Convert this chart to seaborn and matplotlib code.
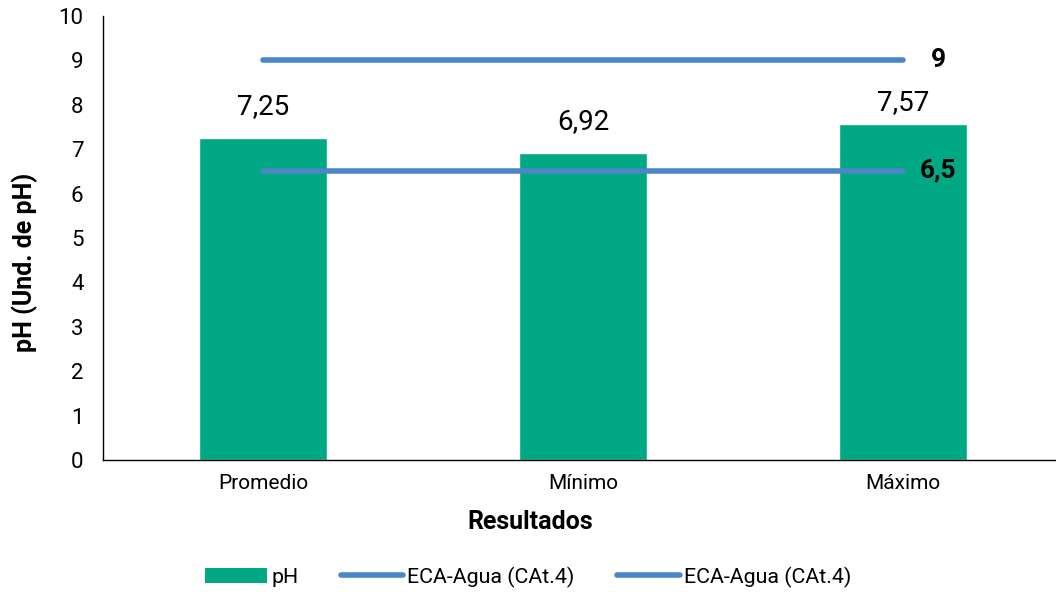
import numpy as np
import pandas as pd
import matplotlib
matplotlib.use('Agg')
import matplotlib.pyplot as plt
from matplotlib.patches import Patch
from matplotlib.lines import Line2D
import seaborn as sns

categorias = ['Promedio', 'Mínimo', 'Máximo']
ph_valores = [7.25, 6.92, 7.57]
eca_max = [9, 9, 9]
eca_min = [6.5, 6.5, 6.5]
etiquetas_ph = ['7,25', '6,92', '7,57']

verde = '#00a884'
azul = '#4a86c8'

sns.set_style('white')
plt.rcParams['font.family'] = ['Roboto', 'DejaVu Sans']
plt.rcParams['text.color'] = 'black'
plt.rcParams['axes.labelcolor'] = 'black'
plt.rcParams['xtick.color'] = 'black'
plt.rcParams['ytick.color'] = 'black'

fig = plt.figure(figsize=(10.56, 5.92), dpi=100)
ax = fig.add_axes([103 / 1056, 1 - 460 / 592, (1056 - 103) / 1056, (460 - 16) / 592])

df = pd.DataFrame({'Resultado': categorias, 'pH': ph_valores})
sns.barplot(data=df, x='Resultado', y='pH', color=verde, width=0.4,
            saturation=1, ax=ax)

pos = np.arange(len(categorias))
ax.plot(pos, eca_max, color=azul, lw=4, solid_capstyle='round', zorder=3)
ax.plot(pos, eca_min, color=azul, lw=4, solid_capstyle='round', zorder=3)

# desplazamiento de etiquetas (la del máximo queda más baja para no chocar con la línea)
desp = [0.7, 0.7, 0.47]
for x, v, t, d in zip(pos, ph_valores, etiquetas_ph, desp):
    ax.text(x, v + d, t, ha='center', va='center', fontsize=20)

ax.text(pos[-1] + 0.11, eca_max[-1], '9', ha='center', va='center',
        fontsize=19, fontweight='bold')
ax.text(pos[-1] + 0.11, eca_min[-1] + 0.03, '6,5', ha='center', va='center',
        fontsize=19, fontweight='bold')

ax.set_xlim(-0.5, 2.5 - 7 / 320)
ax.set_ylim(0, 10)
ax.set_yticks(range(0, 11))
ax.tick_params(axis='both', length=0)
ax.tick_params(axis='x', pad=10, labelsize=15)
ax.tick_params(axis='y', pad=14, labelsize=16)
for s in ['top', 'right']:
    ax.spines[s].set_visible(False)
ax.spines['left'].set_color('black')
ax.spines['bottom'].set_color('black')
ax.spines['left'].set_linewidth(1)
ax.spines['bottom'].set_linewidth(1)

ax.set_xlabel('Resultados', fontsize=18, fontweight='bold')
ax.set_ylabel('pH (Und. de pH)', fontsize=18, fontweight='bold')
ax.xaxis.set_label_coords((530 - 103) / 953, (460 - 522) / 444)
ax.yaxis.set_label_coords((25 - 103) / 953, (460 - 262) / 444)
ax.xaxis.label.set_va('center')
ax.yaxis.label.set_va('center')

handles = [Patch(facecolor=verde, edgecolor='none'),
           Line2D([0], [0], color=azul, lw=4, solid_capstyle='round'),
           Line2D([0], [0], color=azul, lw=4, solid_capstyle='round')]
labels = ['pH', 'ECA-Agua (CAt.4)', 'ECA-Agua (CAt.4)']
fig.legend(handles, labels, loc='center', bbox_to_anchor=(0.5, 1 - 577 / 592),
           ncol=3, frameon=False, fontsize=15.4, handlelength=2.9,
           handletextpad=0.2, columnspacing=2.0)

fig.savefig('out.png', dpi=100)
